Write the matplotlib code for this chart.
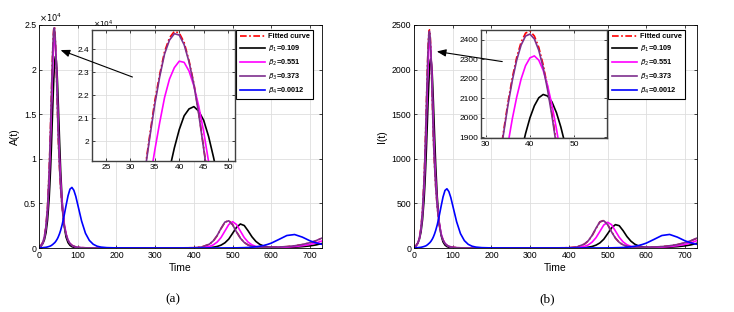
import numpy as np
import matplotlib.pyplot as plt
from matplotlib.ticker import FuncFormatter

plt.rcParams['font.family'] = ['Liberation Sans', 'DejaVu Sans']
plt.rcParams['mathtext.fontset'] = 'dejavusans'

# time samples (denser around the first peak, the insets zoom there)
t = [0, 5, 10, 14, 18, 22, 26, 28,
     30, 31, 32, 33, 34, 35, 36, 37, 38, 39, 40, 41, 42, 43, 44, 45, 46, 47, 48,
     50, 53, 56, 60, 65, 70, 75, 80, 85, 90, 95, 100,
     110, 120, 130, 140, 150, 160, 175, 200,
     250, 300, 350, 400,
     420, 440, 450, 460, 470, 480, 490, 500, 510, 520, 530, 540, 550, 560, 570, 580, 590, 600,
     620, 640, 660, 680, 700, 715, 730]

# panel (a): A(t), in units of 10^4
A_fit = [0.012, 0.028, 0.066, 0.128, 0.25, 0.46, 0.84, 1.10,
         1.40, 1.56, 1.72, 1.88, 2.03, 2.175, 2.29, 2.39, 2.45, 2.478, 2.471, 2.43, 2.35, 2.25, 2.12, 1.97, 1.82, 1.66, 1.50,
         1.20, 0.90, 0.66, 0.44, 0.26, 0.15, 0.085, 0.05, 0.03, 0.02, 0.012, 0.008,
         0.004, 0.002, 0.001, 0.0008, 0.0006, 0.0005, 0.0004, 0.0003,
         0.0002, 0.0003, 0.0006, 0.003,
         0.011, 0.042, 0.078, 0.137, 0.216, 0.288, 0.308, 0.262, 0.183, 0.111, 0.062, 0.033, 0.019, 0.012, 0.009, 0.008, 0.008, 0.008,
         0.010, 0.015, 0.024, 0.038, 0.058, 0.080, 0.108]
A_b1 = [0.01, 0.02, 0.05, 0.093, 0.17, 0.31, 0.54, 0.71,
        0.90, 1.01, 1.13, 1.26, 1.39, 1.52, 1.64, 1.76, 1.875, 1.97, 2.05, 2.11, 2.14, 2.15, 2.13, 2.09, 2.02, 1.93, 1.83,
        1.59, 1.21, 0.86, 0.51, 0.25, 0.12, 0.06, 0.03, 0.015, 0.008, 0.004, 0.002,
        0.001, 0.0005, 0.0005, 0.0005, 0.0005, 0.0005, 0.0005, 0.0005,
        0.0005, 0.0005, 0.0005, 0.0005,
        0.0012, 0.0046, 0.009, 0.017, 0.032, 0.058, 0.10, 0.165, 0.231, 0.269, 0.252, 0.192, 0.125, 0.074, 0.041, 0.022, 0.012, 0.008,
        0.005, 0.006, 0.009, 0.015, 0.024, 0.034, 0.05]
A_b2 = [0.01, 0.024, 0.058, 0.12, 0.23, 0.42, 0.75, 0.98,
        1.25, 1.39, 1.54, 1.685, 1.83, 1.96, 2.08, 2.19, 2.27, 2.32, 2.348, 2.343, 2.305, 2.24, 2.15, 2.04, 1.91, 1.77, 1.63,
        1.32, 1.0, 0.74, 0.49, 0.28, 0.16, 0.09, 0.052, 0.03, 0.018, 0.011, 0.007,
        0.003, 0.0015, 0.001, 0.0007, 0.0005, 0.0004, 0.0003, 0.0002,
        0.0001, 0.0001, 0.0003, 0.001,
        0.005, 0.018, 0.035, 0.066, 0.117, 0.19, 0.263, 0.295, 0.263, 0.19, 0.117, 0.066, 0.035, 0.018, 0.01, 0.007, 0.006, 0.006,
        0.007, 0.01, 0.016, 0.026, 0.04, 0.056, 0.078]
A_b3 = [0.012, 0.028, 0.065, 0.126, 0.245, 0.455, 0.83, 1.09,
        1.39, 1.55, 1.71, 1.87, 2.02, 2.16, 2.28, 2.38, 2.44, 2.468, 2.462, 2.42, 2.345, 2.245, 2.115, 1.965, 1.815, 1.655, 1.495,
        1.20, 0.90, 0.66, 0.44, 0.26, 0.15, 0.085, 0.05, 0.03, 0.02, 0.012, 0.008,
        0.004, 0.002, 0.001, 0.0008, 0.0006, 0.0005, 0.0004, 0.0003,
        0.0002, 0.0003, 0.0006, 0.003,
        0.011, 0.043, 0.08, 0.14, 0.22, 0.29, 0.305, 0.26, 0.18, 0.11, 0.062, 0.034, 0.02, 0.013, 0.01, 0.009, 0.009, 0.009,
        0.011, 0.016, 0.025, 0.039, 0.06, 0.082, 0.11]
A_b4 = [0.002, 0.003, 0.004, 0.006, 0.008, 0.012, 0.017, 0.02,
        0.024, 0.026, 0.029, 0.032, 0.035, 0.038, 0.042, 0.046, 0.050, 0.054, 0.057, 0.062, 0.067, 0.073, 0.079, 0.086, 0.093, 0.100, 0.108,
        0.127, 0.16, 0.20, 0.265, 0.366, 0.479, 0.586, 0.66, 0.679, 0.647, 0.579, 0.487,
        0.302, 0.165, 0.085, 0.042, 0.02, 0.01, 0.004, 0.001,
        0.0002, 0.0001, 0.0001, 0.0001,
        0.0002, 0.0003, 0.0004, 0.0005, 0.0006, 0.0008, 0.001, 0.0013, 0.0018, 0.003, 0.004, 0.006, 0.009, 0.013, 0.02, 0.028, 0.04, 0.055,
        0.097, 0.14, 0.151, 0.122, 0.08, 0.058, 0.042]

# panel (b): I(t)
I_fit = [11, 25, 59, 115, 225, 428, 772, 1012,
         1299, 1454, 1617, 1775, 1929, 2077, 2206, 2311, 2389, 2435, 2446, 2420, 2362, 2272, 2157, 2021, 1869, 1713, 1551,
         1239, 930, 690, 460, 265, 152, 88, 52, 31, 20, 12, 8,
         4, 2, 1, 0.8, 0.6, 0.5, 0.4, 0.3,
         0.2, 0.3, 0.6, 3,
         11, 43, 79, 139, 219, 292, 310, 264, 185, 112, 63, 34, 19, 12, 9, 8, 8, 8,
         10, 15, 24, 38, 58, 80, 108]
I_b1 = [10, 22, 53, 99, 178, 316, 542, 700,
        890, 997, 1111, 1229, 1350, 1474, 1597, 1713, 1822, 1919, 2000, 2062, 2103, 2120, 2112, 2081, 2027, 1953, 1862,
        1643, 1276, 933, 573, 292, 142, 68, 33, 16, 8, 4, 2,
        1, 0.5, 0.5, 0.5, 0.5, 0.5, 0.5, 0.5,
        0.5, 0.5, 0.5, 0.5,
        1.2, 4.6, 9, 17, 32, 57, 98, 160, 224, 262, 250, 194, 128, 77, 43, 23, 13, 8,
        5, 6, 9, 15, 24, 35, 52]
I_b2 = [10, 23, 55, 111, 210, 392, 692, 897,
        1153, 1291, 1433, 1580, 1722, 1864, 1995, 2107, 2200, 2268, 2308, 2318, 2296, 2244, 2166, 2064, 1944, 1808, 1668,
        1376, 1030, 760, 500, 285, 163, 92, 53, 30, 18, 11, 7,
        3, 1.5, 1, 0.7, 0.5, 0.4, 0.3, 0.2,
        0.1, 0.1, 0.3, 1,
        5, 18, 35, 66, 116, 186, 258, 288, 262, 192, 120, 68, 36, 19, 11, 7, 6, 6,
        7, 10, 16, 26, 41, 58, 82]
I_b3 = [11, 25, 58, 113, 222, 424, 765, 1003,
        1289, 1444, 1606, 1764, 1917, 2064, 2192, 2297, 2374, 2420, 2430, 2405, 2347, 2258, 2143, 2008, 1857, 1702, 1541,
        1232, 926, 688, 459, 265, 152, 88, 52, 31, 20, 12, 8,
        4, 2, 1, 0.8, 0.6, 0.5, 0.4, 0.3,
        0.2, 0.3, 0.6, 3,
        11, 44, 81, 142, 222, 294, 306, 262, 182, 111, 63, 35, 21, 13, 10, 9, 9, 9,
        11, 16, 25, 39, 60, 82, 110]
I_b4 = [2, 3, 4, 6, 8, 12, 17, 20,
        23, 25, 28, 31, 34, 37, 41, 45, 49, 53, 56, 61, 66, 71, 77, 84, 91, 98, 106,
        124, 157, 197, 259, 358, 468, 573, 645, 664, 633, 566, 476,
        295, 161, 83, 41, 20, 10, 4, 1,
        0.2, 0.1, 0.1, 0.1,
        0.2, 0.3, 0.4, 0.5, 0.6, 0.8, 1, 1.3, 1.8, 3, 4, 6, 9, 13, 20, 28, 40, 55,
        97, 140, 152, 122, 80, 58, 42]

labels = ['Fitted curve', r'$\beta_1$=0.109', r'$\beta_2$=0.551',
          r'$\beta_3$=0.373', r'$\beta_4$=0.0012']
colors = ['#FF0000', '#000000', '#FF00FF', '#7E2F8E', '#0000FF']
styles = ['-.', '-', '-', '-', '-']

x_ticks = [0, 100, 200, 300, 400, 500, 600, 700]
A_ticks = [0, 0.5, 1, 1.5, 2, 2.5]
I_ticks = [0, 500, 1000, 1500, 2000, 2500]
A_ins_xticks = [25, 30, 35, 40, 45, 50]
A_ins_yticks = [2, 2.1, 2.2, 2.3, 2.4]
I_ins_xticks = [30, 40, 50]
I_ins_yticks = [1900, 2000, 2100, 2200, 2300, 2400]

W, H = 734.0, 312.0
gfmt = FuncFormatter(lambda v, p: '%g' % v)


def style_axes(ax, size):
    ax.tick_params(direction='in', top=True, right=True, length=2.5,
                   width=0.5, labelsize=size, pad=2)
    ax.grid(True, color='#dedede', lw=0.6)
    ax.set_axisbelow(True)


def draw_lines(ax, ys, lw):
    for y, c, s, lab in zip(ys, colors, styles, labels):
        if s == '-.':
            ax.plot(t, y, color=c, lw=lw, dashes=(4, 1.5, 1, 1.5), label=lab)
        else:
            ax.plot(t, y, color=c, lw=lw, ls=s, label=lab)


def panel(fig, x0, ys, ylab, yticks, ins_box, ins_xlim, ins_ylim, ins_xt, ins_yt,
          head, tail, leg_x, sci, cap, cap_x):
    ax = fig.add_axes([x0 / W, (H - 248) / H, 282.7 / W, 223 / H])
    draw_lines(ax, ys, 1.2)
    ax.set_xlim(0, 730)
    ax.set_ylim(yticks[0], yticks[-1])
    ax.set_xticks(x_ticks)
    ax.set_yticks(yticks)
    ax.yaxis.set_major_formatter(gfmt)
    style_axes(ax, 6.3)
    for sp in ax.spines.values():
        sp.set_linewidth(0.6)
    ax.set_xlabel('Time', fontsize=7.5, labelpad=2)
    ax.set_ylabel(ylab, fontsize=7.5, labelpad=3)
    if sci:
        ax.text(0.0, 1.003, r'$\times10^{4}$', transform=ax.transAxes,
                fontsize=6, ha='left', va='bottom')
    ax.legend(loc='upper right', bbox_to_anchor=(leg_x, 0.978),
              prop={'weight': 'bold', 'size': 5.3}, fancybox=False,
              edgecolor='k', framealpha=1, handlelength=3.4,
              handletextpad=0.4, labelspacing=0.5, borderpad=0.45,
              borderaxespad=0)
    ax.get_legend().get_frame().set_linewidth(0.8)

    l, r, tp, bt = ins_box
    ins = fig.add_axes([l / W, (H - bt) / H, (r - l) / W, (bt - tp) / H])
    draw_lines(ins, ys, 1.2)
    ins.set_xlim(*ins_xlim)
    ins.set_ylim(*ins_ylim)
    ins.set_xticks(ins_xt)
    ins.set_yticks(ins_yt)
    ins.yaxis.set_major_formatter(gfmt)
    style_axes(ins, 6)
    for sp in ins.spines.values():
        sp.set_linewidth(1.0)
        sp.set_color('#404040')
    if sci:
        ins.text(0.01, 1.0, r'$\times10^{4}$', transform=ins.transAxes,
                 fontsize=5.3, ha='left', va='bottom')
    ins.annotate('', xy=head, xycoords=ax.transData, xytext=tail,
                 textcoords=ax.transData, annotation_clip=False,
                 arrowprops=dict(arrowstyle='-|>,head_length=0.55,head_width=0.22',
                                 color='k', lw=0.8, mutation_scale=10))
    fig.text(cap_x / W, (H - 299) / H, cap, family=['Liberation Serif', 'DejaVu Serif'],
             fontsize=9.5, ha='center', va='center')


fig = plt.figure(figsize=(7.34, 3.12), dpi=100)
panel(fig, 39, [A_fit, A_b1, A_b2, A_b3, A_b4], 'A(t)', A_ticks,
      (91.7, 235, 30, 161), (22.1, 51.4), (1.913, 2.484), A_ins_xticks, A_ins_yticks,
      (49, 2.23), (248, 1.906), 0.969, True, '(a)', 173)
panel(fig, 414, [I_fit, I_b1, I_b2, I_b3, I_b4], 'I(t)', I_ticks,
      (481, 606.7, 30, 138.3), (28.9, 57.4), (1895, 2451), I_ins_xticks, I_ins_yticks,
      (51.7, 2208), (235, 2085), 0.9586, False, '(b)', 547)
fig.savefig('out.png', dpi=100)
